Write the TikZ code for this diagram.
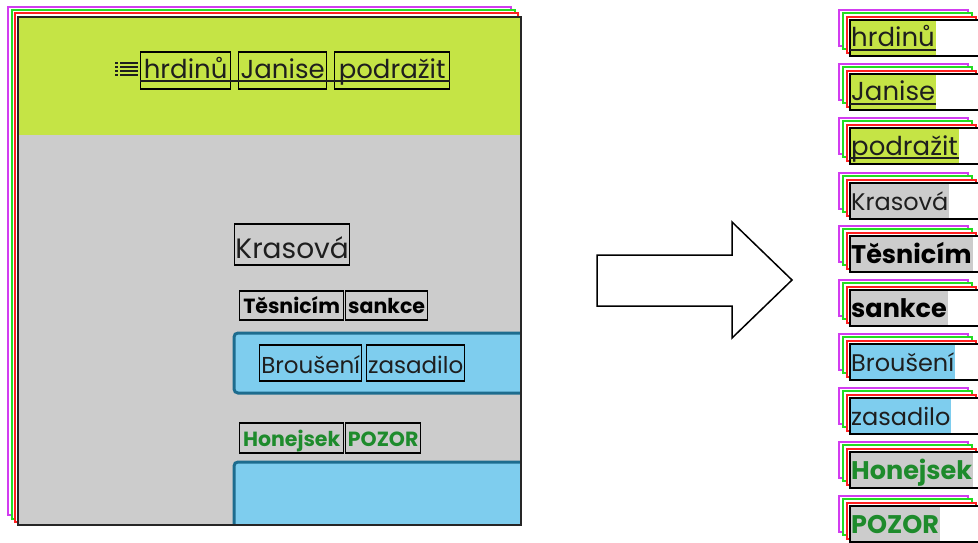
\documentclass[tikz,border=0pt]{standalone}
\usepackage{fontspec}
\setmainfont{Poppins}
\definecolor{lime}{RGB}{197,228,69}
\definecolor{panelgray}{RGB}{204,204,204}
\definecolor{sky}{RGB}{126,205,238}
\definecolor{edgeblue}{RGB}{29,108,142}
\definecolor{fmag}{RGB}{210,60,240}
\definecolor{fgreen}{RGB}{34,221,34}
\definecolor{fred}{RGB}{255,32,32}
\definecolor{wordgreen}{RGB}{30,139,44}
\definecolor{ink}{RGB}{30,30,30}
\begin{document}
\begin{tikzpicture}[x=1pt,y=-1pt,
  frM/.style={draw=fmag, fill=white, line width=1.5pt},
  frG/.style={draw=fgreen, fill=white, line width=1.5pt},
  frR/.style={draw=fred, fill=white, line width=1.5pt},
  bluebox/.style={draw=edgeblue, fill=sky, line width=3pt, rounded corners=4pt},
  wbox/.style={draw=black, line width=1.3pt, inner sep=0pt, anchor=base west, text=ink},
  hword/.style={wbox, font=\fontsize{26}{30}\selectfont, text height=27pt, text depth=10pt},
  bword/.style={wbox, font=\fontsize{20.5}{24}\selectfont\bfseries, text height=22pt, text depth=7pt},
  rtext/.style={inner sep=0pt, inner xsep=1pt, anchor=base west, text height=27pt, text depth=9pt, text=ink},
  rhead/.style={font=\fontsize{26}{30}\selectfont},
  rreg/.style={font=\fontsize{24}{28}\selectfont},
  rbold/.style={font=\fontsize{25.5}{29}\selectfont\bfseries, text=black},
  rboldg/.style={font=\fontsize{25.5}{29}\selectfont\bfseries, text=wordgreen},
  boxframe/.style={draw=black, fill=white, line width=2pt}
]
\useasboundingbox (0,0) rectangle (978,543);

% ---- stacked page on the left ----
\draw[frM] (8,7) rectangle (511,515);
\draw[frG] (12,10) rectangle (515,519);
\draw[frR] (15,13) rectangle (518,522);
\fill[lime] (18,17) rectangle (521,135);
\fill[panelgray] (18,135) rectangle (521,525);
\begin{scope}
  \clip (18,17) rectangle (521,525);
  \draw[bluebox] (234,333) rectangle (545,393);
  \draw[bluebox] (234,462) rectangle (545,550);
\end{scope}
\draw[line width=2pt, draw=black!85] (18,17) rectangle (521,525);

% menu icon
\foreach \yy in {63,67,71,75} {
  \fill[ink] (115,\yy-1) rectangle (118,\yy+1);
  \fill[ink] (120,\yy-1) rectangle (138,\yy+1);
}

% header links
\node[hword, minimum width=90pt] (hA) at (140,79) {hrdinů};
\node[hword, minimum width=88pt] (hB) at (238,79) {Janise};
\node[hword, minimum width=115pt] (hC) at (334,79) {podražit};
\draw[line width=1.2pt, ink] ([yshift=-2pt]hA.base west) -- ([yshift=-2pt]hC.base east);

% body words
\node[wbox, font=\fontsize{28}{32}\selectfont, text height=34pt, text depth=7pt, minimum width=115pt] (kras) at (234,258) {Krasová};
\node[bword, text=black, minimum width=104pt] (tes) at (239,313) {Těsnicím};
\node[bword, text=black, minimum width=82pt] (san) at (345,313) {sankce};
\node[wbox, font=\fontsize{23}{27}\selectfont, text height=28pt, text depth=8pt, minimum width=102pt] (bro) at (259,373) {Broušení};
\node[wbox, font=\fontsize{23}{27}\selectfont, text height=28pt, text depth=8pt, minimum width=98pt] (zas) at (366,373) {zasadilo};
\node[bword, text=wordgreen, text height=23pt, minimum width=104pt] (hon) at (239,446) {Honejsek};
\node[bword, text=wordgreen, text height=23pt, minimum width=75pt] (poz) at (345,446) {POZOR};

% ---- block arrow ----
\draw[line width=1.5pt, fill=white, line join=miter]
  (597,255) -- (732,255) -- (732,222) -- (792,280) -- (732,338) -- (732,306) -- (597,306) -- cycle;

% ---- extracted items on the right ----
\foreach \T/\word/\bg/\wsty [count=\i] in {
  20/hrdinů/lime/rhead, 74/Janise/lime/rhead, 128/podražit/lime/rhead,
  183/Krasová/panelgray/rreg, 236/Těsnicím/panelgray/rbold, 290/sankce/panelgray/rbold,
  344/Broušení/sky/rreg, 398/zasadilo/sky/rreg,
  452/Honejsek/panelgray/rboldg, 506/POZOR/panelgray/rboldg} {
  \draw[frM] (839,\T-10) rectangle ++(129,36);
  \draw[frG] (843,\T-7) rectangle ++(129,36);
  \draw[frR] (847,\T-3) rectangle ++(129,36);
  \draw[boxframe] (850,\T) rectangle ++(129,36);
  \node[rtext, \wsty, fill=\bg] (r\i) at (850,\T+27) {\word};
  \draw[boxframe, fill=none] (850,\T) rectangle ++(129,36);
}
\foreach \i in {1,2,3}
  \draw[line width=1.2pt, ink] ([yshift=-3pt]r\i.base west) -- ([yshift=-3pt]r\i.base east);
\end{tikzpicture}
\end{document}
